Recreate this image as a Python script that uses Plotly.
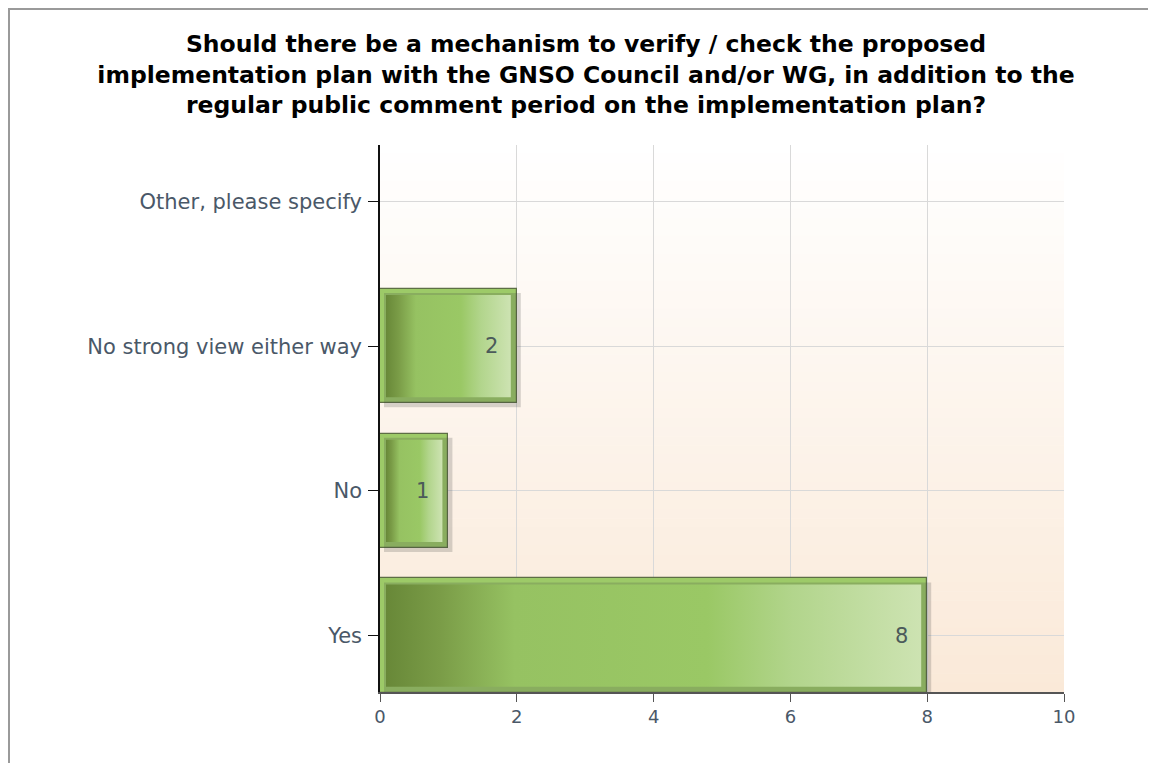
import plotly.graph_objects as go

# ---- data ----
categories = ["Yes", "No", "No strong view either way", "Other, please specify"]
counts = [8, 1, 2, 0]
x_ticks = [0, 2, 4, 6, 8, 10]
title_text = ("Should there be a mechanism to verify / check the proposed<br>"
              "implementation plan with the GNSO Council and/or WG, in addition to the<br>"
              "regular public comment period on the implementation plan?")

# ---- layout geometry (canvas px; page adds an 8px body margin) ----
W, H = 1156, 763
ML, MR, MT, MB = 372, 100, 137, 79
PW, PH = W - ML - MR, H - MT - MB
XMAX = 10
YLO, YHI = -0.39, 3.39
BAR_W = 0.79

xu = XMAX / PW                # x data units per pixel
yu = (YHI - YLO) / PH         # y data units per pixel

pos = list(range(len(categories)))
FONT = "DejaVu Sans, Verdana, Arial"

fig = go.Figure()

# drop shadows
for p, v in zip(pos, counts):
    if v <= 0:
        continue
    sx, sy = 4 * xu, 4 * yu
    x0, x1 = 0 + sx, v + sx
    y0, y1 = p - BAR_W / 2 - sy, p + BAR_W / 2 - sy
    fig.add_trace(go.Scatter(
        x=[x0, x1, x1, x0, x0], y=[y0, y0, y1, y1, y0],
        mode="lines", fill="toself", line=dict(width=0),
        fillcolor="rgba(60,60,60,0.2)", hoverinfo="skip", showlegend=False))

# base bars
fig.add_trace(go.Bar(
    x=counts, y=pos, orientation="h", width=BAR_W,
    marker=dict(color="#9dca68", line=dict(color="#5d6e45", width=1.2)),
    hoverinfo="x+y", showlegend=False))

# inner gradient panels
grad = [[0.0, "#688838"], [0.1, "#7a9c47"], [0.24, "#96c262"],
        [0.6, "#9ac865"], [0.76, "#b2d58c"], [1.0, "#cde3b2"]]
for p, v in zip(pos, counts):
    if v <= 0:
        continue
    ix, iy = 6 * xu, 6 * yu
    x0, x1 = ix, v - ix
    y0, y1 = p - BAR_W / 2 + iy, p + BAR_W / 2 - iy
    fig.add_trace(go.Scatter(
        x=[x0, x1, x1, x0, x0], y=[y0, y0, y1, y1, y0],
        mode="lines", fill="toself", line=dict(width=0),
        fillgradient=dict(type="horizontal", colorscale=grad),
        hoverinfo="skip", showlegend=False))

# value labels
for p, v in zip(pos, counts):
    if v <= 0:
        continue
    fig.add_annotation(x=v, y=p, text=str(v), showarrow=False,
                       xanchor="right", xshift=-17,
                       font=dict(family=FONT, size=21, color="#4b5a5a"))

# background vertical gradient (white -> peach)
N = 60
c0 = (255, 255, 255)
c1 = (250, 233, 216)
shapes = []
for k in range(N):
    t = (k + 0.5) / N
    col = tuple(round(c0[j] + (c1[j] - c0[j]) * t) for j in range(3))
    shapes.append(dict(type="rect", xref="paper", yref="paper",
                       x0=0, x1=1, y0=1 - (k + 1) / N, y1=1 - k / N + 0.001,
                       fillcolor="rgb(%d,%d,%d)" % col, line=dict(width=0),
                       layer="below"))

# outer frame (top and left gray border)
px = lambda X: (X - ML) / PW
py = lambda Y: (H - MB - Y) / PH
shapes.append(dict(type="line", xref="paper", yref="paper",
                   x0=px(0), x1=px(W + 5), y0=py(1), y1=py(1),
                   line=dict(color="#9a9a9a", width=2)))
shapes.append(dict(type="line", xref="paper", yref="paper",
                   x0=px(1), x1=px(1), y0=py(0), y1=py(H + 5),
                   line=dict(color="#9a9a9a", width=2)))

fig.update_layout(
    width=W, height=H,
    margin=dict(l=ML, r=MR, t=MT, b=MB),
    paper_bgcolor="white", plot_bgcolor="rgba(0,0,0,0)",
    title=dict(text="<b>" + title_text + "</b>", x=0.5, xref="container", xanchor="center",
               y=1 - 44 / H, yref="container", yanchor="top",
               font=dict(family=FONT, size=23.5, color="#000000")),
    shapes=shapes,
    showlegend=False,
    bargap=0,
)

fig.update_xaxes(range=[0, XMAX], tickvals=x_ticks, ticktext=[str(t) for t in x_ticks],
                 showgrid=True, gridcolor="#d9d9d9", gridwidth=1,
                 zeroline=False, showline=True, linecolor="#555555", linewidth=1.5,
                 ticks="outside", ticklen=8, tickcolor="#555555",
                 tickfont=dict(family=FONT, size=18, color="#4a5868"),
                 fixedrange=True)
fig.update_yaxes(range=[YLO, YHI], tickvals=pos, ticktext=categories,
                 showgrid=True, gridcolor="#d9d9d9", gridwidth=1,
                 zeroline=False, showline=True, linecolor="#111111", linewidth=1.5,
                 ticks="outside", ticklen=10, tickcolor="#111111",
                 ticklabelstandoff=2,
                 tickfont=dict(family=FONT, size=21, color="#4a5868"),
                 fixedrange=True)

fig.write_html("out.html")
